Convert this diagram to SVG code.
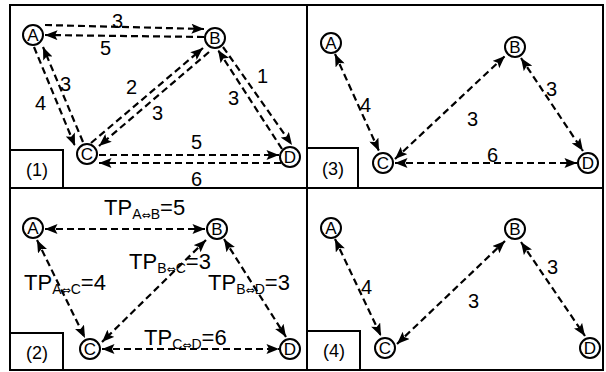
<svg xmlns="http://www.w3.org/2000/svg" width="606" height="372" viewBox="0 0 606 372">
<defs>
<marker id="ah" viewBox="0 0 10 8" refX="10" refY="4" markerWidth="13" markerHeight="10" markerUnits="userSpaceOnUse" orient="auto-start-reverse">
<path d="M0,0 L10,4 L0,8 L2,4 z" fill="#000"/>
</marker>
</defs>
<style>
.frame{fill:none;stroke:#000;stroke-width:2}
.e{fill:none;stroke:#000;stroke-width:2.2;stroke-dasharray:7,4}
.s{marker-end:url(#ah)}
.d{marker-start:url(#ah);marker-end:url(#ah)}
.n circle{fill:#fff;stroke:#000;stroke-width:2}
.n text{font-family:"Liberation Sans",Arial,sans-serif;font-size:17px;text-anchor:middle;fill:#000}
.lb{font-family:"Liberation Sans",Arial,sans-serif;font-size:20px;fill:#000}
.tp{font-family:"Liberation Sans",Arial,sans-serif;font-size:22px;fill:#000}
.sub{font-size:14px}
.ar{font-family:"DejaVu Sans",sans-serif;font-size:11px}
.pl{font-family:"Liberation Sans",Arial,sans-serif;font-size:18px;fill:#000;text-anchor:middle}
</style>
<rect width="606" height="372" fill="#fff"/>
<g id="frames">
<rect class="frame" x="10" y="5" width="593" height="365"/>
<line class="frame" x1="10" y1="188" x2="603" y2="188"/>
<line class="frame" x1="307" y1="5" x2="307" y2="370"/>
<rect class="frame" x="10" y="150" width="53" height="38"/>
<rect class="frame" x="10" y="333" width="53" height="37"/>
<rect class="frame" x="307" y="148" width="51" height="40"/>
<rect class="frame" x="307" y="331" width="53" height="39"/>
<text class="pl" x="37" y="176">(1)</text>
<text class="pl" x="37" y="359">(2)</text>
<text class="pl" x="333" y="175">(3)</text>
<text class="pl" x="334" y="357">(4)</text>
</g>
<g id="connectors">
<!-- panel 1 -->
<line class="e s" x1="45" y1="25" x2="204" y2="29"/>
<line class="e s" x1="204" y1="37" x2="45" y2="35"/>
<line class="e s" x1="34" y1="47" x2="75" y2="146"/>
<line class="e s" x1="83" y1="142" x2="43" y2="47"/>
<line class="e s" x1="91" y1="143" x2="203" y2="48"/>
<line class="e s" x1="209" y1="52" x2="99" y2="146"/>
<line class="e s" x1="223" y1="47" x2="292" y2="145"/>
<line class="e s" x1="282" y1="149" x2="218" y2="50"/>
<line class="e s" x1="99" y1="155" x2="279" y2="155"/>
<line class="e s" x1="281" y1="163" x2="99" y2="163"/>
<!-- panel 2 -->
<line class="e d" x1="45" y1="229" x2="205" y2="229"/>
<line class="e d" x1="37" y1="240" x2="85" y2="338"/>
<line class="e d" x1="206" y1="240" x2="102" y2="342"/>
<line class="e d" x1="224" y1="239" x2="286" y2="337"/>
<line class="e d" x1="102" y1="349" x2="279" y2="349"/>
<!-- panel 3 -->
<line class="e d" x1="335" y1="54" x2="379" y2="151"/>
<line class="e d" x1="395" y1="159" x2="505" y2="56"/>
<line class="e d" x1="521" y1="58" x2="583" y2="151"/>
<line class="e d" x1="395" y1="163" x2="577" y2="163"/>
<!-- panel 4 -->
<line class="e d" x1="335" y1="239" x2="381" y2="336"/>
<line class="e d" x1="397" y1="344" x2="505" y2="241"/>
<line class="e d" x1="521" y1="242" x2="585" y2="336"/>
</g>
<g id="labels">
<text class="lb" x="112" y="28">3</text>
<text class="lb" x="100" y="55">5</text>
<text class="lb" x="35" y="110">4</text>
<text class="lb" x="60" y="91">3</text>
<text class="lb" x="126" y="94">2</text>
<text class="lb" x="152" y="120">3</text>
<text class="lb" x="257" y="83">1</text>
<text class="lb" x="228" y="105">3</text>
<text class="lb" x="191" y="149">5</text>
<text class="lb" x="191" y="186">6</text>
<text class="tp" x="104" y="215">TP<tspan class="sub" dy="4">A<tspan class="ar">⇔</tspan>B</tspan><tspan dy="-4">=5</tspan></text>
<text class="tp" x="24" y="290">TP<tspan class="sub" dy="4">A<tspan class="ar">⇔</tspan>C</tspan><tspan dy="-4">=4</tspan></text>
<text class="tp" x="129" y="269">TP<tspan class="sub" dy="4">B<tspan class="ar">⇔</tspan>C</tspan><tspan dy="-4">=3</tspan></text>
<text class="tp" x="208" y="290">TP<tspan class="sub" dy="4">B<tspan class="ar">⇔</tspan>D</tspan><tspan dy="-4">=3</tspan></text>
<text class="tp" x="144" y="345">TP<tspan class="sub" dy="4">C<tspan class="ar">⇔</tspan>D</tspan><tspan dy="-4">=6</tspan></text>
<text class="lb" x="360" y="112">4</text>
<text class="lb" x="467" y="126">3</text>
<text class="lb" x="546" y="96">3</text>
<text class="lb" x="487" y="162">6</text>
<text class="lb" x="361" y="294">4</text>
<text class="lb" x="468" y="308">3</text>
<text class="lb" x="547" y="274">3</text>
</g>
<g id="p1-A" class="n"><circle cx="33" cy="35" r="10"/><text x="33" y="41">A</text></g>
<g id="p1-B" class="n"><circle cx="215" cy="38" r="10"/><text x="215" y="44">B</text></g>
<g id="p1-C" class="n"><circle cx="87" cy="154" r="10"/><text x="87" y="160">C</text></g>
<g id="p1-D" class="n"><circle cx="290" cy="157" r="10"/><text x="290" y="163">D</text></g>
<g id="p2-A" class="n"><circle cx="33" cy="228" r="10"/><text x="33" y="234">A</text></g>
<g id="p2-B" class="n"><circle cx="217" cy="229" r="10"/><text x="217" y="235">B</text></g>
<g id="p2-C" class="n"><circle cx="90" cy="349" r="10"/><text x="90" y="355">C</text></g>
<g id="p2-D" class="n"><circle cx="290" cy="349" r="10"/><text x="290" y="355">D</text></g>
<g id="p3-A" class="n"><circle cx="331" cy="43" r="10"/><text x="331" y="49">A</text></g>
<g id="p3-B" class="n"><circle cx="515" cy="47" r="10"/><text x="515" y="53">B</text></g>
<g id="p3-C" class="n"><circle cx="383" cy="163" r="10"/><text x="383" y="169">C</text></g>
<g id="p3-D" class="n"><circle cx="588" cy="163" r="10"/><text x="588" y="169">D</text></g>
<g id="p4-A" class="n"><circle cx="331" cy="228" r="10"/><text x="331" y="234">A</text></g>
<g id="p4-B" class="n"><circle cx="515" cy="229" r="10"/><text x="515" y="235">B</text></g>
<g id="p4-C" class="n"><circle cx="385" cy="348" r="10"/><text x="385" y="354">C</text></g>
<g id="p4-D" class="n"><circle cx="590" cy="348" r="10"/><text x="590" y="354">D</text></g>
</svg>
